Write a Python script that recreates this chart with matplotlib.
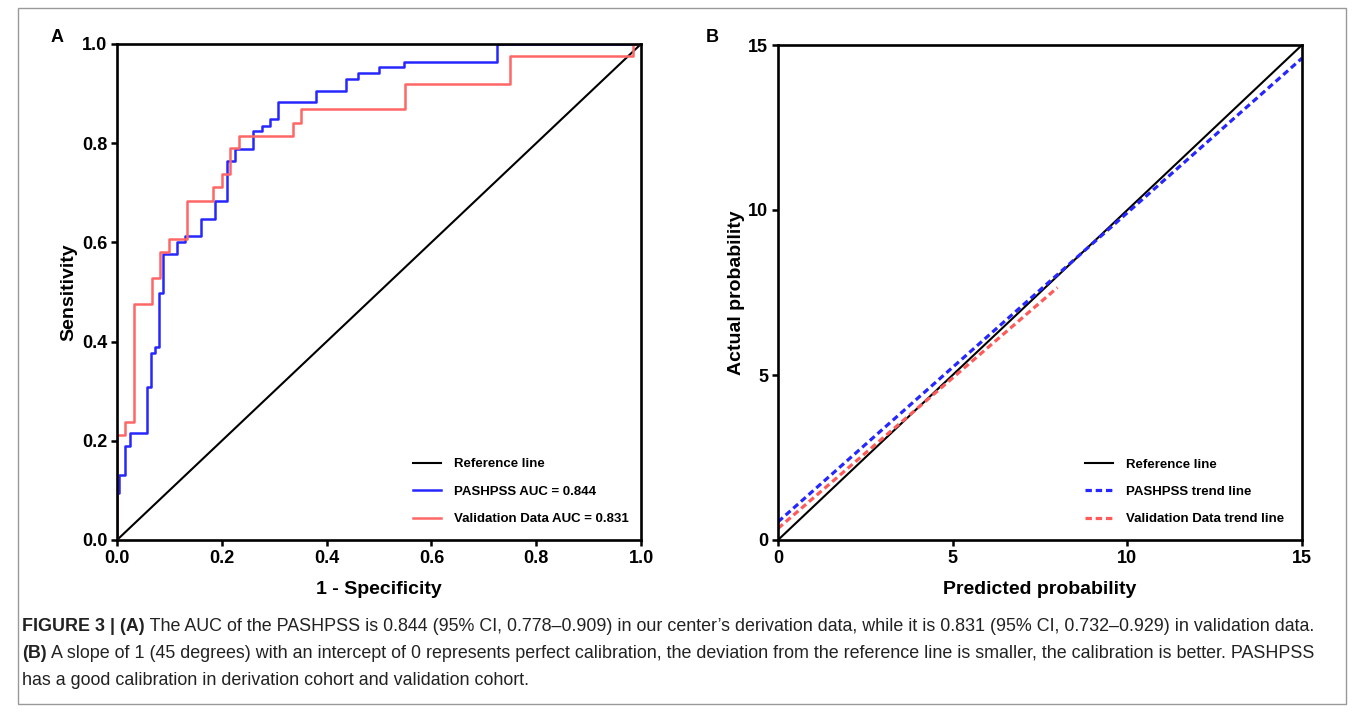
import numpy as np
from matplotlib import pyplot as plt
from matplotlib.patches import Rectangle

plt.rcParams['font.family'] = ['Liberation Sans', 'DejaVu Sans']

# ROC data, steps-post points: (fpr, tpr)
pashpss_fpr = [0.0, 0.0, 0.004, 0.015, 0.024, 0.057, 0.065, 0.073, 0.081, 0.088, 0.114, 0.130, 0.161,
               0.187, 0.210, 0.226, 0.259, 0.276, 0.292, 0.308, 0.380, 0.437, 0.460, 0.500, 0.548,
               0.725, 1.0]
pashpss_tpr = [0.0, 0.094, 0.131, 0.190, 0.215, 0.308, 0.378, 0.390, 0.497, 0.577, 0.601, 0.612, 0.647,
               0.683, 0.765, 0.788, 0.825, 0.835, 0.848, 0.884, 0.905, 0.929, 0.942, 0.953, 0.964,
               1.0, 1.0]

valid_fpr = [0.0, 0.0, 0.015, 0.033, 0.066, 0.083, 0.100, 0.133, 0.184, 0.201, 0.216, 0.233, 0.335,
             0.351, 0.550, 0.750, 0.985, 1.0]
valid_tpr = [0.0, 0.212, 0.238, 0.476, 0.528, 0.581, 0.606, 0.684, 0.711, 0.737, 0.790, 0.815, 0.841,
             0.868, 0.919, 0.976, 1.0, 1.0]

ref_roc = [0.0, 1.0]

# calibration trend lines (predicted, actual)
ref_cal = [0, 15]
pashpss_trend_x = [0, 15]
pashpss_trend_y = [0.55, 14.6]
valid_trend_x = [0, 8]
valid_trend_y = [0.35, 7.65]

roc_labels = ['Reference line', 'PASHPSS AUC = 0.844', 'Validation Data AUC = 0.831']
cal_labels = ['Reference line', 'PASHPSS trend line', 'Validation Data trend line']

W, H = 1357, 714
fig = plt.figure(figsize=(W / 100, H / 100), dpi=100)

def box(l, r, b, t):
    return [l / W, (H - b) / H, (r - l) / W, (b - t) / H]

def style_axes(ax):
    for s in ax.spines.values():
        s.set_linewidth(1.9)
    ax.tick_params(direction='out', length=4.5, width=1.8, pad=2.5, labelsize=13)
    for lab in ax.get_xticklabels() + ax.get_yticklabels():
        lab.set_fontweight('bold')

leg_kw = dict(loc='upper left', frameon=False, borderpad=0, borderaxespad=0, handlelength=2.1,
              handletextpad=1.0, labelspacing=1.15, prop={'size': 9.5, 'weight': 'bold'})

# ---- A: ROC ----
axA = fig.add_axes(box(117, 641, 540, 44))
axA.plot(ref_roc, ref_roc, color='black', lw=1.5, label=roc_labels[0])
axA.plot(pashpss_fpr, pashpss_tpr, drawstyle='steps-post', color='#2626ff', lw=1.8, label=roc_labels[1])
axA.plot(valid_fpr, valid_tpr, drawstyle='steps-post', color='#ff6666', lw=1.8, label=roc_labels[2])
axA.set_xlim(0, 1)
axA.set_ylim(0, 1)
axA.set_xticks(np.arange(0, 1.01, 0.2))
axA.set_yticks(np.arange(0, 1.01, 0.2))
axA.set_xticklabels(['%.1f' % v for v in np.arange(0, 1.01, 0.2)])
axA.set_yticklabels(['%.1f' % v for v in np.arange(0, 1.01, 0.2)])
style_axes(axA)
axA.set_xlabel('1 - Specificity', fontsize=14, fontweight='bold', labelpad=10)
axA.set_ylabel('Sensitivity', fontsize=14, fontweight='bold', labelpad=3)
axA.legend(bbox_to_anchor=(0.565, 0.165), **leg_kw)

# ---- B: calibration ----
axB = fig.add_axes(box(778, 1302, 540, 45))
axB.plot(ref_cal, ref_cal, color='black', lw=1.5, label=cal_labels[0])
axB.plot(pashpss_trend_x, pashpss_trend_y, color='#2626ff', lw=2.3, ls=(0, (2, 1.2)), label=cal_labels[1])
axB.plot(valid_trend_x, valid_trend_y, color='#ff5a5a', lw=2.3, ls=(0, (2, 1.2)), label=cal_labels[2])
axB.set_xlim(0, 15)
axB.set_ylim(0, 15)
axB.set_xticks([0, 5, 10, 15])
axB.set_yticks([0, 5, 10, 15])
style_axes(axB)
axB.set_xlabel('Predicted probability', fontsize=14, fontweight='bold', labelpad=10)
axB.set_ylabel('Actual probability', fontsize=14, fontweight='bold', labelpad=2)
axB.legend(bbox_to_anchor=(0.586, 0.165), **leg_kw)

fig.text(57 / W, 1 - 38 / H, 'A', fontsize=13, fontweight='bold', ha='center', va='center')
fig.text(712 / W, 1 - 38 / H, 'B', fontsize=13, fontweight='bold', ha='center', va='center')

# ---- caption ----
cap = fig.add_axes([0, 0, 1, 1])
cap.axis('off')
cap.set_xlim(0, W)
cap.set_ylim(H, 0)
cap.add_patch(Rectangle((18, 8), 1328, 696, fill=False, ec='#999999', lw=1.0))

cfont = ['Liberation Sans', 'DejaVu Sans']
csize = 12.9
caption = [
    ('FIGURE 3 | (A)', ' The AUC of the PASHPSS is 0.844 (95% CI, 0.778\u20130.909) in our center\u2019s derivation data, while it is 0.831 (95% CI, 0.732\u20130.929) in validation data.'),
    ('(B)', ' A slope of 1 (45 degrees) with an intercept of 0 represents perfect calibration, the deviation from the reference line is smaller, the calibration is better. PASHPSS'),
    ('', 'has a good calibration in derivation cohort and validation cohort.'),
]
baselines = [631, 658, 685]
for (bold, rest), yb in zip(caption, baselines):
    t = cap.text(22, yb, bold if bold else rest, family=cfont, fontsize=csize,
                 fontweight='bold' if bold else 'normal', va='baseline', ha='left', color='#222222')
    if bold:
        cap.annotate(rest, xy=(1, 0), xycoords=t, va='bottom', ha='left', family=cfont,
                     fontsize=csize, color='#222222')

plt.savefig('out.png', dpi=100)
